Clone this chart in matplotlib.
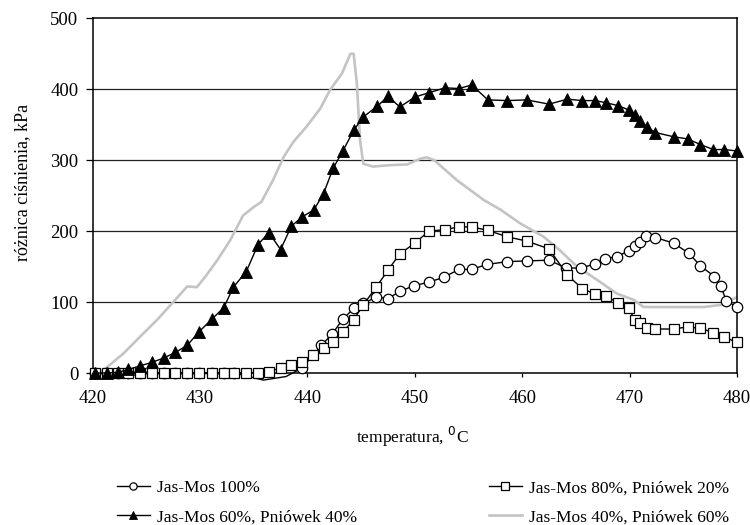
import matplotlib
matplotlib.use("Agg")
import matplotlib.pyplot as plt

plt.rcParams['font.family'] = ['Liberation Serif', 'DejaVu Serif']

# Jas-Mos 100%
c_x = [420.2, 421.3, 422.4, 423.3, 424.4, 425.5, 426.6, 427.7, 428.8, 429.9, 431.1, 432.2, 433.2,
       435.9, 438.0,
       439.5, 441.3, 442.3, 443.3, 444.3, 445.2, 446.4, 447.5, 448.6, 449.9, 451.3, 452.7, 454.1,
       455.3, 456.7, 458.6, 460.4, 462.5, 464.1, 465.5, 466.8, 467.7, 468.8, 469.9, 470.5, 471.0,
       471.5, 472.4, 474.1, 475.5, 476.6, 477.9, 478.5, 479.0, 480.0]
c_y = [0, 0, 0, 0, 0, 0, 0, 0, 0, 0, 0, 0, 0,
       -10, -5,
       7, 39, 55, 76, 91, 98, 107, 105, 115, 123, 128, 135, 146,
       146, 153, 157, 158, 159, 148, 148, 154, 161, 164, 172, 179, 185,
       193, 191, 183, 169, 151, 136, 122, 102, 93]

# Jas-Mos 80%, Pniówek 20%
s_x = [420.2, 421.3, 422.4, 423.3, 424.4, 425.5, 426.6, 427.7, 428.8, 429.9, 431.1, 432.2, 433.2,
       434.3, 435.4, 436.4, 437.5, 438.5, 439.5, 440.5, 441.5, 442.4, 443.3, 444.3, 445.2, 446.4,
       447.5, 448.6, 450.0, 451.3, 452.8, 454.1, 455.3, 456.8, 458.6, 460.4, 462.5, 464.2, 465.6,
       466.8, 467.8, 468.9, 469.9, 470.5, 471.0, 471.6, 472.4, 474.1, 475.4, 476.6, 477.8, 478.8,
       480.0]
s_y = [0, 0, 0, 0, 0, 0, 0, 0, 0, 0, 0, 0, 0,
       0, 0.5, 2, 7, 11, 16, 25, 35, 44, 58, 75, 96, 121,
       145, 168, 183, 200, 202, 206, 206, 201, 192, 186, 175, 138, 119,
       111, 108, 99, 91, 75, 71, 64, 62, 62, 65, 63, 57, 51,
       43]

# Jas-Mos 60%, Pniówek 40%
t_x = [420.2, 421.3, 422.4, 423.3, 424.4, 425.5, 426.6, 427.7, 428.8, 429.9, 431.1, 432.2, 433.1,
       434.3, 435.4, 436.4, 437.5, 438.5, 439.5, 440.6, 441.5, 442.4, 443.3, 444.3, 445.2, 446.5,
       447.5, 448.6, 450.0, 451.3, 452.8, 454.1, 455.3, 456.8, 458.6, 460.4, 462.5, 464.2, 465.6,
       466.8, 467.8, 468.9, 469.9, 470.5, 471.0, 471.6, 472.4, 474.1, 475.4, 476.6, 477.8, 478.8,
       480.0]
t_y = [0, 0, 1, 5, 10, 15, 21, 29, 39, 58, 76, 92, 121,
       143, 181, 198, 174, 207, 220, 230, 253, 289, 313, 342, 361, 376,
       390, 375, 389, 395, 402, 401, 406, 385, 384, 385, 379, 386, 384,
       384, 381, 377, 371, 363, 355, 347, 339, 333, 330, 322, 315, 315,
       313]

# Jas-Mos 40%, Pniówek 60%
g_x = [420.5, 421.0, 422.9, 424.4, 426.0, 427.5, 428.8, 429.7, 430.5, 431.6, 432.8, 434.0, 435.0,
       435.7, 436.8, 437.8, 438.7, 439.9, 441.2, 442.1, 443.2, 444.0, 444.3, 444.6, 444.9, 445.2,
       446.1, 447.7, 449.3, 450.5, 451.1, 451.8, 453.9, 456.4, 458.0, 459.8, 462.0, 463.5, 465.1,
       467.0, 468.8, 470.4, 471.3, 473.8, 476.9, 478.5, 480.0]
g_y = [0, 4, 28, 51, 75, 100, 122, 121, 136, 159, 187, 222, 234,
       241, 272, 305, 326, 347, 373, 399, 422, 450, 450, 408, 328, 295,
       291, 293, 294, 302, 304, 300, 272, 244, 230, 211, 192, 173, 150,
       131, 112, 103, 93, 93, 93, 96, 107]

labels = ["Jas-Mos 100%", "Jas-Mos 80%, Pniówek 20%",
          "Jas-Mos 60%, Pniówek 40%", "Jas-Mos 40%, Pniówek 60%"]
x_ticks = [420, 430, 440, 450, 460, 470, 480]
y_ticks = [0, 100, 200, 300, 400, 500]

W, H = 750, 525
fig = plt.figure(figsize=(W / 100, H / 100), dpi=100)
ax = fig.add_axes([92.7 / W, 1 - 373 / H, (737 - 92.7) / W, (373 - 18.3) / H])

for yv in y_ticks[1:-1]:
    ax.axhline(yv, color='#222222', lw=0.9, zorder=1)

gray, = ax.plot(g_x, g_y, color='#c4c4c4', lw=1.9, zorder=2, label=labels[3])

c_marks = [i for i, x in enumerate(c_x) if not (433.5 < x < 439)]
circ, = ax.plot(c_x, c_y, color='black', lw=1.0, marker='o', markersize=7.5,
                markerfacecolor='white', markeredgecolor='black', markeredgewidth=0.9,
                markevery=c_marks, zorder=3, clip_on=False, label=labels[0])
sq, = ax.plot(s_x, s_y, color='black', lw=1.0, marker='s', markersize=7.5,
              markerfacecolor='white', markeredgecolor='black', markeredgewidth=0.9,
              zorder=4, clip_on=False, label=labels[1])
tri, = ax.plot(t_x, t_y, color='black', lw=1.0, marker='^', markersize=8.5,
               markerfacecolor='black', markeredgecolor='black', markeredgewidth=0.6,
               zorder=5, clip_on=False, label=labels[2])

ax.set_xlim(420, 480)
ax.set_ylim(0, 500)
ax.set_xticks(x_ticks)
ax.set_yticks(y_ticks)
ax.tick_params(axis='y', direction='out', length=4.8, width=0.9, pad=5.5, labelsize=13.5)
ax.tick_params(axis='x', direction='out', length=3, width=0.9, pad=9.5, labelsize=13.5)
for sp in ax.spines.values():
    sp.set_linewidth(1.1)
    sp.set_color('black')

fig.text(412 / W, 1 - 437 / H, "temperatura, $^{0}$C", ha='center', va='center', fontsize=12.5)
fig.text(23 / W, 1 - 182 / H, "różnica ciśnienia, kPa", ha='center', va='center',
         rotation=90, fontsize=13)

leg = fig.legend([circ, tri, sq, gray], [labels[0], labels[2], labels[1], labels[3]],
                 ncol=2, loc='upper left', bbox_to_anchor=(117 / W, 1 - 480 / H),
                 frameon=False, fontsize=12.5, handlelength=1.9, handletextpad=0.4,
                 columnspacing=7.6, labelspacing=0.75, borderpad=0, borderaxespad=0,
                 markerscale=0.7)

fig.savefig("out.png", dpi=100)
